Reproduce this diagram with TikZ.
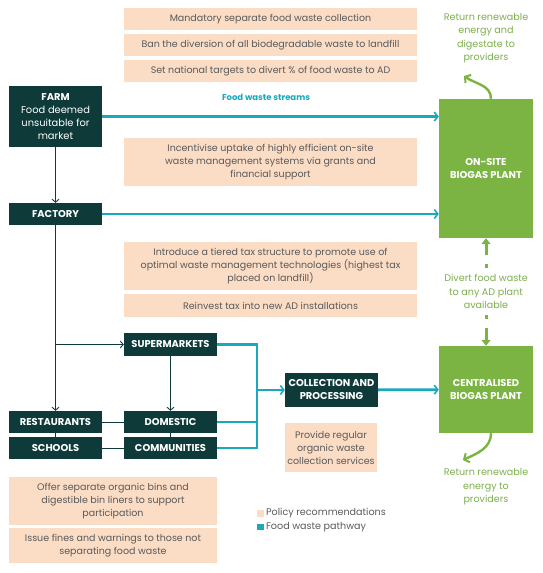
\documentclass[tikz,border=0pt]{standalone}
\usepackage{fontspec}
\setmainfont{Poppins}
\usepackage{xcolor}
\usetikzlibrary{arrows, arrows.meta, positioning, calc}

\definecolor{darkteal}{HTML}{0E3B3A}
\definecolor{peach}{HTML}{FBDCC5}
\definecolor{policygray}{HTML}{5A5A5A}
\definecolor{streamteal}{HTML}{1BA8BC}
\definecolor{plantgreen}{HTML}{7BB443}
\definecolor{notegreen}{HTML}{7DAE4E}

\begin{document}
\begin{tikzpicture}[x=1pt, y=-1pt]
    % Styles
    \tikzstyle{policy} = [rectangle, fill=peach, text=policygray, align=center, inner sep=0pt, minimum width=293pt, minimum height=22pt, font=\fontsize{9.5}{13}\selectfont]
    \tikzstyle{block} = [rectangle, fill=darkteal, text=white, align=center, inner sep=0pt, minimum width=93pt, minimum height=22pt, font=\fontsize{9.9}{13}\selectfont\bfseries]
    \tikzstyle{plant} = [rectangle, fill=plantgreen, text=white, align=center, inner sep=0pt, minimum width=94pt, font=\fontsize{9.9}{13}\selectfont\bfseries]
    \tikzstyle{note} = [text=notegreen, align=center, inner sep=2pt, font=\fontsize{9.6}{13.5}\selectfont]
    \tikzstyle{line} = [draw=darkteal, line width=0.9pt]
    \tikzstyle{arrow} = [line, -{Straight Barb[length=3pt, width=7pt]}]
    \tikzstyle{stream} = [draw=streamteal, line width=2.8pt, -{Straight Barb[length=3.5pt, width=9pt, line width=1.6pt]}]
    \tikzstyle{retarrow} = [draw=plantgreen, line width=2.4pt, -{Straight Barb[length=4pt, width=10pt, line width=2pt]}]
    \tikzstyle{divarrow} = [draw=plantgreen, line width=3pt, dash pattern=on 0pt off 4pt on 4pt off 9pt on 30pt, -{Triangle[length=6pt, width=9pt]}]

    \useasboundingbox (0,0) rectangle (543,573);

    % Policy recommendations (top)
    \node[policy] (mandatory) at (270.5,19) {Mandatory separate food waste collection};
    \node[policy] (ban) at (270.5,45) {Ban the diversion of all biodegradable waste to landfill};
    \node[policy] (targets) at (270.5,71) {Set national targets to divert \% of food waste to AD};
    \node[text=streamteal, font=\fontsize{8.5}{9}\selectfont\bfseries] (streams) at (266,97) {Food waste streams};
    \node[policy, minimum height=48pt] (incentivise) at (270.5,162) {Incentivise uptake of highly efficient on-site\\waste management systems via grants and\\financial support};
    \node[policy, minimum height=48pt] (tax) at (270.5,266) {Introduce a tiered tax structure to promote use of\\optimal waste management technologies (highest tax\\placed on landfill)};
    \node[policy, minimum height=23pt] (reinvest) at (270.5,305.5) {Reinvest tax into new AD installations};

    % Sources
    \node[block, minimum height=61pt] (farm) at (55.5,116.5) {FARM\\{\mdseries Food deemed}\\{\mdseries unsuitable for}\\{\mdseries market}};
    \node[block] (factory) at (55.5,214) {FACTORY};
    \node[block, minimum height=23pt] (supermarkets) at (170.5,344.5) {SUPERMARKETS};
    \node[block] (restaurants) at (55.5,422) {RESTAURANTS};
    \node[block] (schools) at (55.5,448) {SCHOOLS};
    \node[block] (domestic) at (170.5,422) {DOMESTIC};
    \node[block] (communities) at (170.5,448) {COMMUNITIES};
    \node[block, minimum height=34pt] (collection) at (331.5,390) {COLLECTION AND\\PROCESSING};
    \coordinate (hub) at (257,390);

    % Plants
    \node[plant, minimum height=139pt] (onsite) at (486,168.5) {ON-SITE\\BIOGAS PLANT};
    \node[plant, minimum height=87pt] (central) at (486,389.5) {CENTRALISED\\BIOGAS PLANT};
    \node[note] (returnA) at (486,38) {Return renewable\\energy and\\digestate to\\providers};
    \node[note] (divert) at (486,291.5) {Divert food waste\\to any AD plant\\available};
    \node[note] (returnB) at (486,487) {Return renewable\\energy to\\providers};
    \coordinate (returnAend) at (464,76);
    \coordinate (returnBend) at (463,460);

    % Policy recommendations (bottom)
    \node[policy, minimum width=92pt, minimum height=49pt] (provide) at (331,447.5) {Provide regular\\organic waste\\collection services};
    \node[policy, minimum width=208pt, minimum height=48pt] (offer) at (113,501) {Offer separate organic bins and\\digestible bin liners to support\\participation};
    \node[policy, minimum width=208pt, minimum height=35pt] (issue) at (113,545.5) {Issue fines and warnings to those not\\separating food waste};

    % Legend
    \node[fill=peach, minimum size=6.5pt, inner sep=0pt] (keypolicy) at (260.5,513.5) {};
    \node[fill=streamteal, minimum size=6.5pt, inner sep=0pt] (keystream) at (260.5,527) {};
    \node[right=2pt of keypolicy, inner sep=0pt, text=policygray, font=\fontsize{9.6}{10}\selectfont] {Policy recommendations};
    \node[right=2pt of keystream, inner sep=0pt, text=policygray, font=\fontsize{9.6}{10}\selectfont] {Food waste pathway};

    % Supply chain
    \draw[arrow] (farm) -- (factory);
    \draw[arrow] (factory) -- (restaurants);
    \draw[arrow] (factory.south |- supermarkets) -- (supermarkets);
    \draw[arrow] (supermarkets) -- (domestic);
    \draw[line] (restaurants) -- (schools);
    \draw[line] (domestic) -- (communities);
    \draw[line] (restaurants) -- (domestic);
    \draw[line] (schools) -- (communities);

    % Food waste streams
    \draw[stream] (farm.east |- farm) -- (onsite.west |- farm);
    \draw[stream] (factory) -- (onsite.west |- factory);
    \draw[stream, -] (supermarkets.east) -| (hub);
    \draw[stream, -] (domestic.east) -| (hub);
    \draw[stream, -] (communities.east) -| (hub);
    \draw[stream] (hub) -- (collection);
    \draw[stream] (collection) -- (central);

    % Returns
    \draw[retarrow] ([xshift=5pt]onsite.north) to[out=90, in=-35] (returnAend);
    \draw[retarrow] ([xshift=5pt]central.south) to[out=-90, in=25] (returnBend);
    \draw[divarrow] (divert.north) -- (onsite.south);
    \draw[divarrow] (divert.south) -- (central.north);
\end{tikzpicture}
\end{document}
